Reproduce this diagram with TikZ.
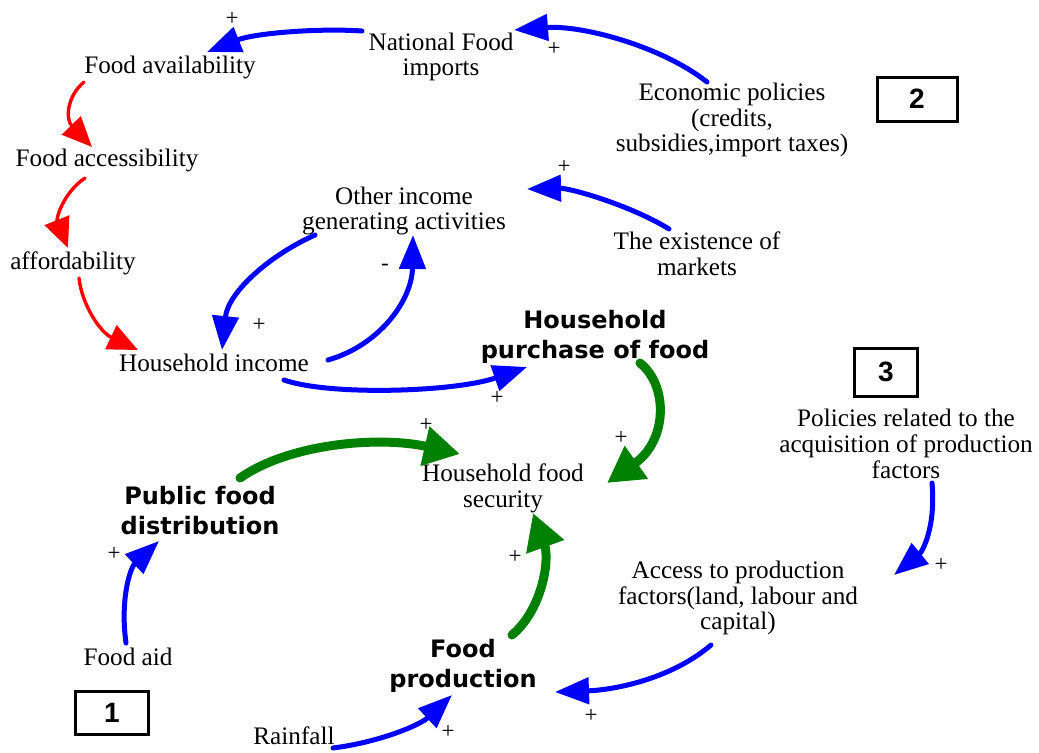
\documentclass[tikz,border=0pt]{standalone}
\usepackage{fontspec}
\setmainfont{Liberation Serif}
\newfontfamily\heavysans{DejaVu Sans}
\newfontfamily\numsans{Liberation Sans}
\usetikzlibrary{arrows.meta}
\begin{document}
\begin{tikzpicture}[x=0.5pt,y=-0.5pt,
  lbl/.style={inner sep=1pt,align=center,font=\fontsize{12.6}{12.9}\selectfont},
  bld/.style={inner sep=1pt,align=center,font=\heavysans\bfseries\fontsize{12}{15}\selectfont},
  sign/.style={inner sep=0pt,font=\fontsize{11.5}{11.5}\selectfont},
  numbox/.style={draw,line width=1.5pt,inner sep=0pt,font=\numsans\bfseries\fontsize{14}{14}\selectfont},
  bluearr/.style={draw=blue,line width=2.5pt,line cap=round,-{Triangle[length=17pt,width=13pt]}},
  redarr/.style={draw=red,line width=1.7pt,line cap=round,-{Triangle[length=15pt,width=13pt]}},
  greenarr/.style={draw=green!50!black,line width=4.5pt,line cap=round,-{Triangle[length=18pt,width=19pt]}}]
\useasboundingbox (0,0) rectangle (1039,752);

% ---- variables ----
\node[lbl] (avail)    at (170,67)  {Food availability};
\node[lbl] (imports)  at (441,57)  {National Food\\imports};
\node[lbl] (econ)     at (732,120) {Economic policies\\(credits,\\subsidies,import taxes)};
\node[lbl] (access)   at (107,160) {Food accessibility};
\node[lbl] (other)    at (404,211) {Other income\\generating activities};
\node[lbl] (markets)  at (697,254) {The existence of\\markets};
\node[lbl] (afford)   at (73,263)  {affordability};
\node[lbl] (hhincome) at (214,363) {Household income};
\node[bld] (purchase) at (595,337) {Household\\purchase of food};
\node[lbl] (policies) at (906,444) {Policies related to the\\acquisition of production\\factors};
\node[bld] (public)   at (200,511) {Public food\\distribution};
\node[lbl] (security) at (503,488) {Household food\\security};
\node[lbl] (aid)      at (128,657) {Food aid};
\node[lbl] (access2)  at (738,598) {Access to production\\factors(land, labour and\\capital)};
\node[bld] (foodprod) at (463,666) {Food\\production};
\node[lbl] (rainfall) at (294,736) {Rainfall};

% ---- numbered boxes ----
\node[numbox,minimum width=36.5pt,minimum height=21.5pt] (box1) at (112,713) {1};
\node[numbox,minimum width=40pt,minimum height=22pt]     (box2) at (917,99)  {2};
\node[numbox,minimum width=31.5pt,minimum height=24pt]   (box3) at (886,372) {3};

% ---- links ----
\draw[bluearr] ([shift={(-79,-26)}]imports.center) .. controls (320,28) and (255,33) .. ([shift={(37,-15)}]avail.center);
\draw[bluearr] ([shift={(-25,-38)}]econ.center) .. controls (660,45) and (580,25) .. ([shift={(73,-27)}]imports.center);
\draw[bluearr] ([shift={(-28,-25)}]markets.center) .. controls (630,205) and (570,188) .. ([shift={(123,-22)}]other.center);
\draw[redarr] ([shift={(-86,15)}]avail.center) .. controls (66,97) and (66,120) .. ([shift={(-15,-13)}]access.center);
\draw[redarr] ([shift={(-22,18)}]access.center) .. controls (64,192) and (56,218) .. ([shift={(-5,-15)}]afford.center);
\draw[redarr] ([shift={(6,15)}]afford.center) .. controls (82,305) and (100,332) .. ([shift={(-76,-13)}]hhincome.center);
\draw[bluearr] ([shift={(-89,24)}]other.center) .. controls (270,255) and (228,292) .. ([shift={(8,-13)}]hhincome.center);
\draw[bluearr] ([shift={(114,-3)}]hhincome.center) .. controls (380,345) and (412,300) .. ([shift={(9,24)}]other.center);
\draw[bluearr] ([shift={(70,17)}]hhincome.center) .. controls (330,396) and (455,392) .. ([shift={(-68,30)}]purchase.center);
\draw[greenarr] ([shift={(45,26)}]purchase.center) .. controls (668,385) and (668,440) .. ([shift={(104,-5)}]security.center);
\draw[greenarr] ([shift={(40,-33)}]public.center) .. controls (290,443) and (380,436) .. ([shift={(-43,-34)}]security.center);
\draw[greenarr] ([shift={(49,-31)}]foodprod.center) .. controls (542,610) and (550,560) .. ([shift={(30,25)}]security.center);
\draw[bluearr] ([shift={(-2,-14)}]aid.center) .. controls (120,600) and (130,568) .. ([shift={(-41,30)}]public.center);
\draw[bluearr] ([shift={(39,12)}]rainfall.center) .. controls (380,742) and (420,725) .. ([shift={(-11,29)}]foodprod.center);
\draw[bluearr] ([shift={(-27,47)}]access2.center) .. controls (670,680) and (612,690) .. ([shift={(92,26)}]foodprod.center);
\draw[bluearr] ([shift={(26,39)}]policies.center) .. controls (936,528) and (922,552) .. ([shift={(156,-23)}]access2.center);

% ---- polarity signs ----
\node[sign] (s1)  at (232,19)  {+};
\node[sign] (s2)  at (554,49)  {+};
\node[sign] (s3)  at (564,167) {+};
\node[sign] (s4)  at (259,325) {+};
\node[sign] (s5)  at (385,267) {-};
\node[sign] (s6)  at (497,398) {+};
\node[sign] (s7)  at (426,425) {+};
\node[sign] (s8)  at (621,438) {+};
\node[sign] (s9)  at (515,557) {+};
\node[sign] (s10) at (114,554) {+};
\node[sign] (s11) at (448,732) {+};
\node[sign] (s12) at (591,716) {+};
\node[sign] (s13) at (941,565) {+};
\end{tikzpicture}
\end{document}
